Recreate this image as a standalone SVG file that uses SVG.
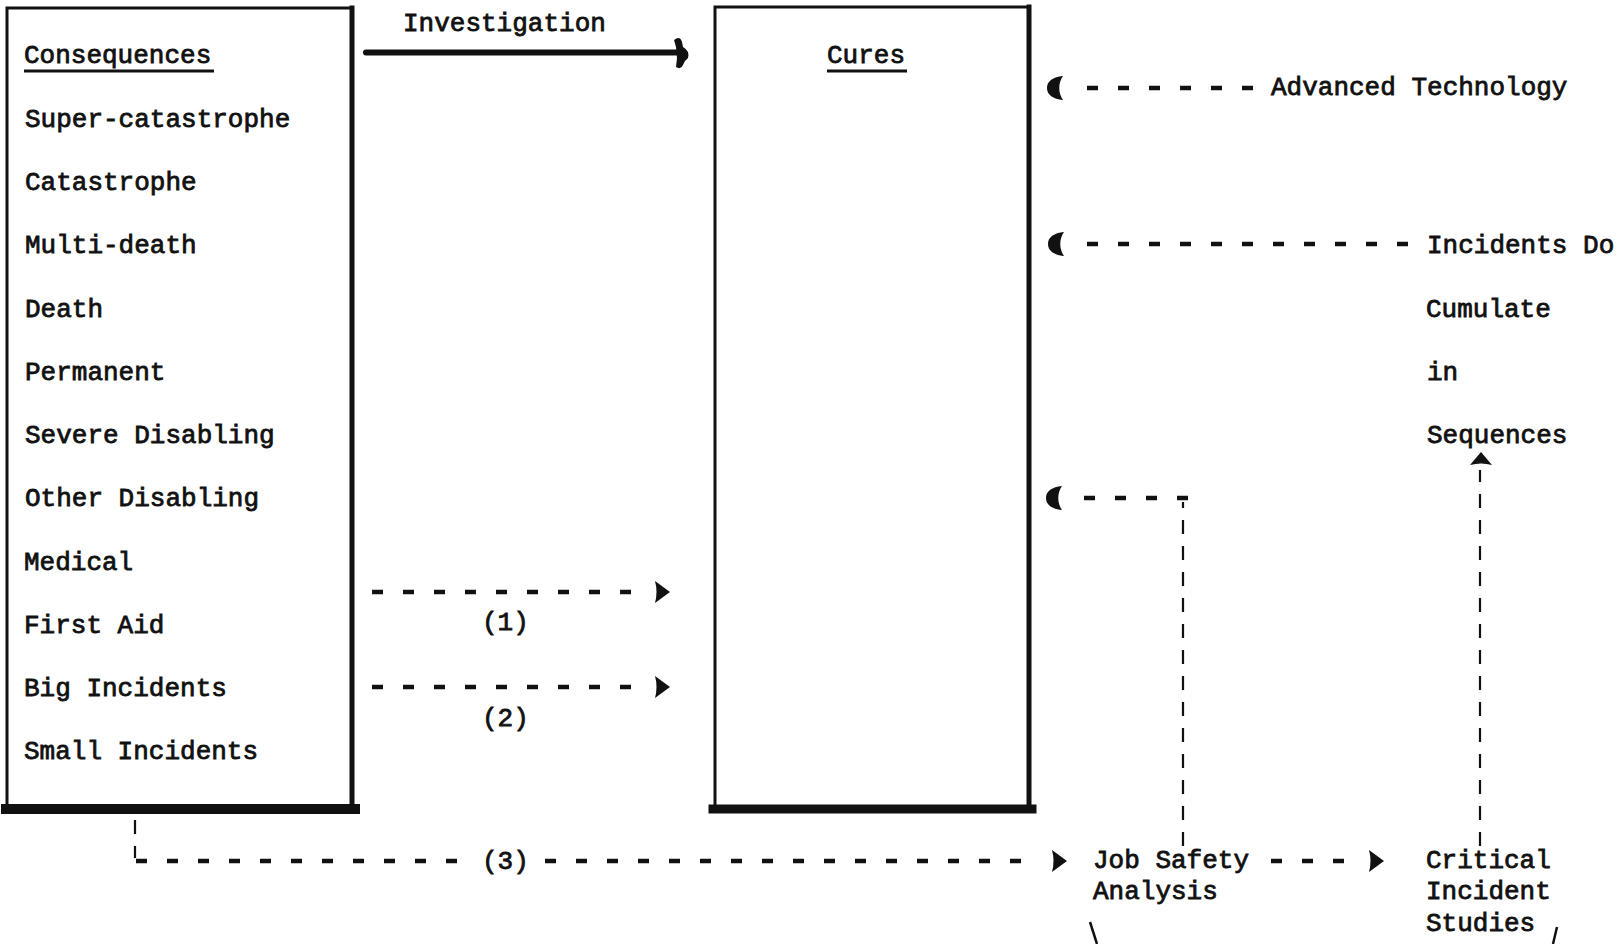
<svg xmlns="http://www.w3.org/2000/svg" width="1621" height="944" viewBox="0 0 1621 944">
<style>
  text { font-family: "Liberation Mono", "DejaVu Sans Mono", monospace; font-size: 26px; fill: #111; stroke: #111; stroke-width: 0.8; }
  .box { fill: none; stroke: #111; stroke-linecap: square; }
  .dash { fill: none; stroke: #111; stroke-width: 4.5; stroke-dasharray: 11 20; }
  .vdash { fill: none; stroke: #111; stroke-width: 2.2; stroke-dasharray: 14 12; }
  .head { fill: #111; }
  .ul { stroke: #111; stroke-width: 3; }
</style>
<defs>
  <path id="arrR" d="M0,0 L-15,-11 Q-12,0 -15,11 Z"/>
  <path id="arrL" d="M0,0 C0,-7 6,-11 16,-12 C11,-5 11,5 16,12 C6,11 0,7 0,0 Z"/>
  <path id="arrU" d="M0,0 L-11,13 Q0,10 11,13 Z"/>
</defs>
<rect width="1621" height="944" fill="#fff"/>

<g id="consequences">
  <path class="box" d="M7,809 L7,8 L352,8" stroke-width="3"/>
  <path class="box" d="M352,8 L352,809" stroke-width="5"/>
  <path class="box" d="M6,809 L355,809" stroke-width="10" stroke-linecap="butt"/>
  <text x="24" y="63">Consequences</text>
  <line class="ul" x1="24" y1="71" x2="214" y2="71"/>
  <text x="25" y="127">Super-catastrophe</text>
  <text x="25" y="190">Catastrophe</text>
  <text x="25" y="253">Multi-death</text>
  <text x="25" y="317">Death</text>
  <text x="25" y="380">Permanent</text>
  <text x="25" y="443">Severe Disabling</text>
  <text x="25" y="506">Other Disabling</text>
  <text x="24" y="570">Medical</text>
  <text x="24" y="633">First Aid</text>
  <text x="24" y="696">Big Incidents</text>
  <text x="24" y="759">Small Incidents</text>
</g>

<g id="cures">
  <path class="box" d="M715,809 L715,7 L1029,7" stroke-width="3"/>
  <path class="box" d="M1029,7 L1029,809" stroke-width="5"/>
  <path class="box" d="M713,809 L1032,809" stroke-width="9" stroke-linecap="butt"/>
  <text x="827" y="63">Cures</text>
  <line class="ul" x1="827" y1="71" x2="907" y2="71"/>
</g>

<g id="advanced-technology"><text x="1271" y="95">Advanced Technology</text></g>
<g id="incidents-cumulate">
  <text x="1427" y="253">Incidents Do</text>
  <text x="1426" y="317">Cumulate</text>
  <text x="1427" y="380">in</text>
  <text x="1427" y="443">Sequences</text>
</g>
<g id="job-safety-analysis">
  <text x="1093" y="868">Job Safety</text>
  <text x="1093" y="899">Analysis</text>
</g>
<g id="critical-incident-studies">
  <text x="1426" y="868">Critical</text>
  <text x="1426" y="899">Incident</text>
  <text x="1426" y="931">Studies</text>
</g>

<g id="connectors">
  <!-- Investigation -->
  <text x="403" y="31">Investigation</text>
  <line x1="366" y1="52.5" x2="681" y2="52.5" stroke="#111" stroke-width="6" stroke-linecap="round"/>
  <path class="head" d="M674,40 Q680,35 682,42 L683,47 Q690,51 688,58 Q684,61 683,65 Q681,70 676,67 L677,58 L676,47 Z"/>

  <!-- (1) -->
  <line class="dash" x1="372" y1="592" x2="648" y2="592"/>
  <use href="#arrR" class="head" transform="translate(670,592)"/>
  <text x="482" y="630">(1)</text>

  <!-- (2) -->
  <line class="dash" x1="372" y1="687" x2="648" y2="687"/>
  <use href="#arrR" class="head" transform="translate(670,687)"/>
  <text x="482" y="726">(2)</text>

  <!-- Advanced Technology -> Cures -->
  <line class="dash" x1="1253" y1="88" x2="1069" y2="88"/>
  <use href="#arrL" class="head" transform="translate(1047,88)"/>

  <!-- Incidents Do Cumulate -> Cures -->
  <line class="dash" x1="1408" y1="244" x2="1070" y2="244"/>
  <use href="#arrL" class="head" transform="translate(1048,244)"/>

  <!-- Job Safety Analysis -> Cures -->
  <line class="vdash" x1="1183" y1="846" x2="1183" y2="502"/>
  <line class="dash" x1="1188" y1="498" x2="1064" y2="498"/>
  <use href="#arrL" class="head" transform="translate(1046,498)"/>

  <!-- Critical Incident Studies -> Sequences -->
  <line class="vdash" x1="1480" y1="846" x2="1480" y2="470"/>
  <use href="#arrU" class="head" transform="translate(1481,452)"/>

  <!-- (3) -->
  <line class="vdash" x1="135" y1="820" x2="135" y2="858"/>
  <line class="dash" x1="136" y1="861" x2="474" y2="861"/>
  <text x="482" y="869">(3)</text>
  <line class="dash" x1="545" y1="861" x2="1040" y2="861"/>
  <use href="#arrR" class="head" transform="translate(1067,861)"/>

  <!-- Job Safety Analysis -> Critical Incident Studies -->
  <line class="dash" x1="1271" y1="861" x2="1350" y2="861"/>
  <use href="#arrR" class="head" transform="translate(1384,861)"/>

  <!-- partial bracket strokes at bottom edge -->
  <line x1="1090" y1="922" x2="1097" y2="944" stroke="#111" stroke-width="2.5"/>
  <line x1="1557" y1="927" x2="1553" y2="944" stroke="#111" stroke-width="2.5"/>
</g>
</svg>
